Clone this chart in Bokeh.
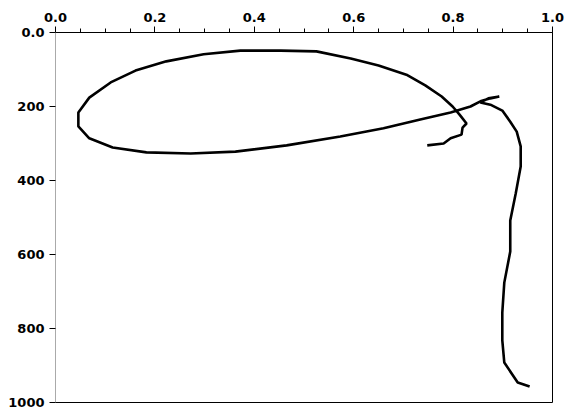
from bokeh.plotting import figure
from bokeh.embed import file_html
from bokeh.resources import INLINE
from bokeh.models import Range1d, FixedTicker

# Profile: value (top axis) vs depth (left axis, increasing downward)
value = [0.748, 0.781, 0.795, 0.817, 0.819, 0.827, 0.813, 0.799, 0.777, 0.744,
         0.706, 0.650, 0.594, 0.525, 0.453, 0.372, 0.298, 0.223, 0.161, 0.111,
         0.068, 0.046, 0.046, 0.068, 0.115, 0.183, 0.272, 0.362, 0.465, 0.573,
         0.660, 0.734, 0.795, 0.835, 0.855, 0.875, 0.893, 0.871, 0.855, 0.875,
         0.899, 0.915, 0.928, 0.936, 0.936, 0.926, 0.915, 0.915, 0.903, 0.899,
         0.899, 0.903, 0.930, 0.954]
depth = [305, 300, 286, 276, 257, 246, 222, 200, 173, 143,
         114, 89, 70, 51, 49, 49, 59, 78, 103, 135,
         176, 216, 254, 286, 311, 324, 327, 322, 305, 281,
         259, 235, 216, 200, 186, 178, 173, 178, 189, 195,
         211, 241, 268, 308, 362, 435, 508, 592, 676, 757,
         832, 892, 946, 957]

x_ticks = [0.0, 0.2, 0.4, 0.6, 0.8, 1.0]
x_tick_labels = ["0.0", "0.2", "0.4", "0.6", "0.8", "1.0"]
y_ticks = [0, 200, 400, 600, 800, 1000]
y_tick_labels = ["0.0", "200", "400", "600", "800", "1000"]

p = figure(width=572, height=418, output_backend="svg", toolbar_location=None,
           x_axis_location="above", y_axis_location="left",
           x_range=Range1d(0, 1), y_range=Range1d(1000, 0),
           min_border_left=55, min_border_right=20, min_border_top=32,
           min_border_bottom=16)

p.line(value, depth, line_color="black", line_width=2.6)

p.xgrid.visible = False
p.ygrid.visible = False
p.outline_line_color = "black"
p.outline_line_width = 1

for ax, ticks, labels in ((p.xaxis[0], x_ticks, x_tick_labels),
                          (p.yaxis[0], y_ticks, y_tick_labels)):
    ax.ticker = FixedTicker(ticks=ticks,
                            minor_ticks=[t / 20 for t in range(21)] if ax is p.xaxis[0] else [])
    ax.major_label_overrides = {t: l for t, l in zip(ticks, labels)}
    ax.major_label_text_font = "DejaVu Sans"
    ax.major_label_text_font_size = "13px"
    ax.major_label_text_font_style = "bold"
    ax.major_label_text_color = "black"
    ax.major_tick_line_color = "black"
    ax.minor_tick_line_color = "black"
    ax.major_tick_out = 6
    ax.major_tick_in = 0
    ax.minor_tick_out = 4
    ax.minor_tick_in = 0

p.xaxis.axis_line_color = "black"
p.yaxis.axis_line_color = "#aaaaaa"

open("out.html", "w").write(file_html(p, INLINE))
